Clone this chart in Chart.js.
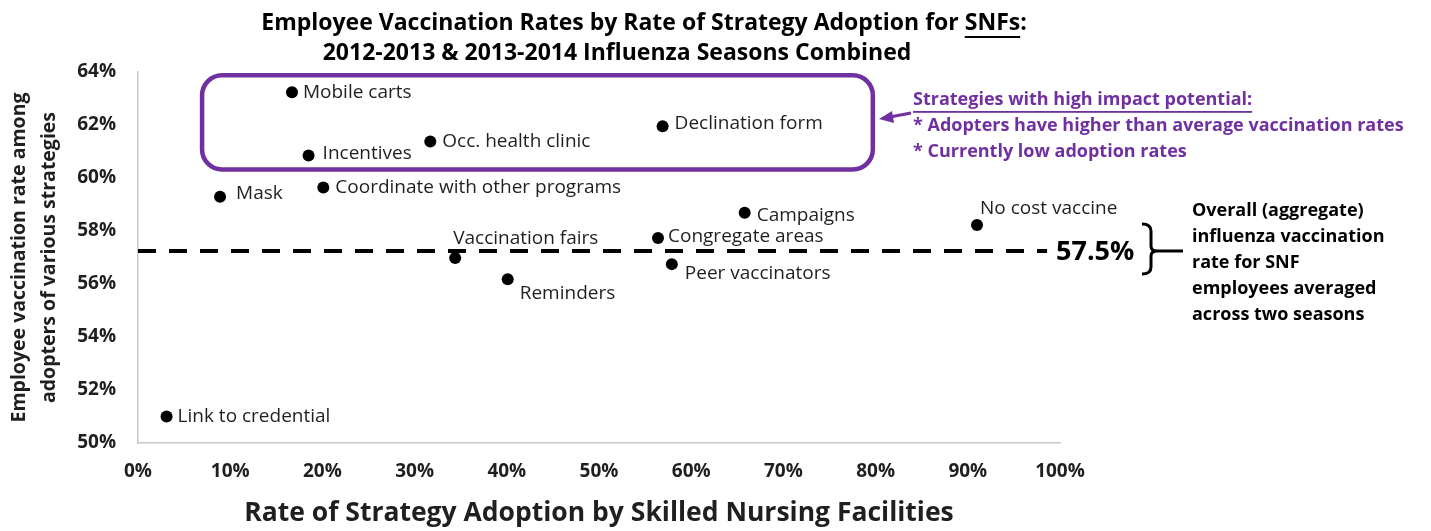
<!DOCTYPE html>
<html><head><meta charset="utf-8">
<script src="https://cdn.jsdelivr.net/npm/chart.js@4.4.1/dist/chart.umd.min.js"></script>
<style>html,body{margin:0;padding:0;background:#fff;}#wrap{width:1431px;height:531px;}</style>
</head><body><div id="wrap"><canvas id="c" width="1431" height="531"></canvas></div>
<script>
// ---- data ----
const strategies = ['Mobile carts','Incentives','Occ. health clinic','Declination form','Mask','Coordinate with other programs','Campaigns','No cost vaccine','Congregate areas','Vaccination fairs','Peer vaccinators','Reminders','Link to credential'];
const adoptionRate = [16.7, 18.5, 31.7, 56.9, 8.9, 20.1, 65.8, 91.0, 56.4, 34.4, 57.9, 40.1, 3.1];
const vaccinationRate = [63.24, 60.85, 61.38, 61.95, 59.29, 59.64, 58.69, 58.23, 57.74, 56.98, 56.75, 56.18, 51.0];
const xTickValues = [0,10,20,30,40,50,60,70,80,90,100];
const yTickValues = [50,52,54,56,58,60,62,64];
const overallLineValue = 57.25;
const overallLineExtent = [0, 98.6];
const overallLabel = '57.5%';
const titleLines = ['Employee Vaccination Rates by Rate of Strategy Adoption for SNFs:', '2012-2013 & 2013-2014 Influenza Seasons Combined'];
const xTitle = 'Rate of Strategy Adoption by Skilled Nursing Facilities';
const yTitle = ['Employee vaccination rate among', 'adopters of various strategies'];
const highImpactLines = ['Strategies with high impact potential:', '* Adopters have higher than average vaccination rates', '* Currently low adoption rates'];
const overallNoteLines = ['Overall (aggregate)', 'influenza vaccination', 'rate for SNF', 'employees averaged', 'across two seasons'];
// label placement (offset of label text start from the point, px)
const labelOffsets = {
  'Mobile carts':[11,0], 'Incentives':[14,-2], 'Occ. health clinic':[12,0], 'Declination form':[12,-3],
  'Mask':[16,-3], 'Coordinate with other programs':[12,0], 'Campaigns':[12,3], 'No cost vaccine':[3,-16],
  'Congregate areas':[10,-1], 'Vaccination fairs':[-2,-19], 'Peer vaccinators':[13,9], 'Reminders':[12,14],
  'Link to credential':[11,0]
};

const FONT = "'Open Sans', sans-serif";
const PURPLE = '#7030A0';
const TEXT = '#1f1f1f';

const annotate = {
  id: 'annotate',
  afterDatasetsDraw(chart) {
    const ctx = chart.ctx;
    const meta = chart.getDatasetMeta(1);
    ctx.save();
    ctx.font = `19px ${FONT}`;
    ctx.fillStyle = TEXT;
    ctx.textBaseline = 'middle';
    ctx.textAlign = 'left';
    strategies.forEach((name, i) => {
      const el = meta.data[i];
      const off = labelOffsets[name] || [10,0];
      ctx.fillText(name, el.x + off[0], el.y + off[1]);
    });
    ctx.restore();
  },
  afterDraw(chart) {
    const ctx = chart.ctx;
    const xs = chart.scales.x, ys = chart.scales.y;
    ctx.save();
    // title
    ctx.fillStyle = '#000';
    ctx.textBaseline = 'middle';
    ctx.textAlign = 'left';
    ctx.font = `bold 23px ${FONT}`;
    const t0 = titleLines[0];
    const w0 = ctx.measureText(t0).width;
    const x0 = 644 - w0 / 2;
    ctx.fillText(t0, x0, 23);
    const pre = t0.slice(0, t0.indexOf('SNFs'));
    const ux = x0 + ctx.measureText(pre).width;
    const uw = ctx.measureText('SNFs').width;
    ctx.fillRect(ux, 36, uw, 2);
    ctx.textAlign = 'center';
    ctx.fillText(titleLines[1], 617, 53);

    // purple rounded box around high-impact strategies
    const bx0 = xs.getPixelForValue(6.95), bx1 = xs.getPixelForValue(79.7);
    const by0 = ys.getPixelForValue(63.88), by1 = ys.getPixelForValue(60.32);
    ctx.strokeStyle = PURPLE;
    ctx.lineWidth = 4.5;
    ctx.beginPath();
    ctx.roundRect(bx0, by0, bx1 - bx0, by1 - by0, 20);
    ctx.stroke();

    // arrow
    ctx.beginPath();
    ctx.lineWidth = 3;
    ctx.moveTo(911, 113);
    ctx.lineTo(890, 117);
    ctx.stroke();
    ctx.fillStyle = PURPLE;
    ctx.beginPath();
    ctx.moveTo(879, 119);
    ctx.lineTo(892, 111);
    ctx.lineTo(894, 123);
    ctx.closePath();
    ctx.fill();

    // purple text
    ctx.font = `bold 18px ${FONT}`;
    ctx.textAlign = 'left';
    ctx.textBaseline = 'middle';
    const py = [100, 126, 152];
    highImpactLines.forEach((s, i) => ctx.fillText(s, 913, py[i]));
    const lw = ctx.measureText(highImpactLines[0]).width;
    ctx.fillRect(913, 111, lw, 1.8);

    // 57.5% label
    const ly = ys.getPixelForValue(overallLineValue);
    ctx.fillStyle = '#000';
    ctx.font = `bold 27px ${FONT}`;
    ctx.fillText(overallLabel, 1056, ly + 1);

    // bracket
    ctx.strokeStyle = '#000';
    ctx.lineWidth = 3;
    ctx.beginPath();
    ctx.moveTo(1142, 224);
    ctx.quadraticCurveTo(1151, 224, 1151, 231);
    ctx.lineTo(1151, ly - 5);
    ctx.quadraticCurveTo(1151, ly, 1157, ly);
    ctx.quadraticCurveTo(1151, ly, 1151, ly + 5);
    ctx.lineTo(1151, 267);
    ctx.quadraticCurveTo(1151, 274, 1142, 274);
    ctx.moveTo(1156, ly);
    ctx.lineTo(1183, ly);
    ctx.stroke();

    // right note
    ctx.font = `bold 18px ${FONT}`;
    ctx.fillStyle = '#000';
    overallNoteLines.forEach((s, i) => ctx.fillText(s, 1192, 211 + i * 26));
    ctx.restore();
  }
};

new Chart(document.getElementById('c'), {
  type: 'scatter',
  data: {
    datasets: [
      {
        type: 'line',
        data: overallLineExtent.map(x => ({x, y: overallLineValue})),
        borderColor: '#000', borderWidth: 4, borderDash: [18, 13],
        pointRadius: 0, fill: false, order: 2
      },
      {
        data: adoptionRate.map((x, i) => ({x, y: vaccinationRate[i]})),
        backgroundColor: '#000', borderColor: '#000', borderWidth: 0,
        pointRadius: 6, pointHoverRadius: 6, order: 1
      }
    ]
  },
  options: {
    responsive: false, animation: false, devicePixelRatio: 1,
    layout: { padding: { top: 72, right: 371, left: 0, bottom: 0 } },
    plugins: { legend: { display: false }, tooltip: { enabled: false }, title: { display: false } },
    scales: {
      x: {
        type: 'linear', min: 0, max: 100,
        afterBuildTicks: s => { s.ticks = xTickValues.map(v => ({ value: v })); },
        grid: { display: false, drawTicks: false },
        border: { display: true, color: '#c8c8c8', width: 1.5 },
        ticks: { padding: 17, color: TEXT, font: { family: FONT, size: 19, weight: 'bold' }, callback: v => v + '%', maxRotation: 0, autoSkip: false },
        title: { display: true, text: xTitle, color: TEXT, font: { family: FONT, size: 26.5, weight: 'bold', lineHeight: 1.2 }, padding: { top: 0, bottom: 2 } },
        afterFit: s => { s.height = 88; }
      },
      y: {
        type: 'linear', min: 50, max: 64,
        afterBuildTicks: s => { s.ticks = yTickValues.map(v => ({ value: v })); },
        grid: { display: false, drawTicks: false },
        border: { display: true, color: '#c8c8c8', width: 1.5 },
        ticks: { padding: 22, color: TEXT, font: { family: FONT, size: 19, weight: 'bold' }, callback: v => v + '%' },
        title: { display: true, text: yTitle, color: TEXT, font: { family: FONT, size: 19.5, weight: 'bold', lineHeight: 1.55 }, padding: { top: 4, bottom: 0 } },
        afterFit: s => { s.width = 138; }
      }
    }
  },
  plugins: [annotate]
});
</script>
</body></html>
